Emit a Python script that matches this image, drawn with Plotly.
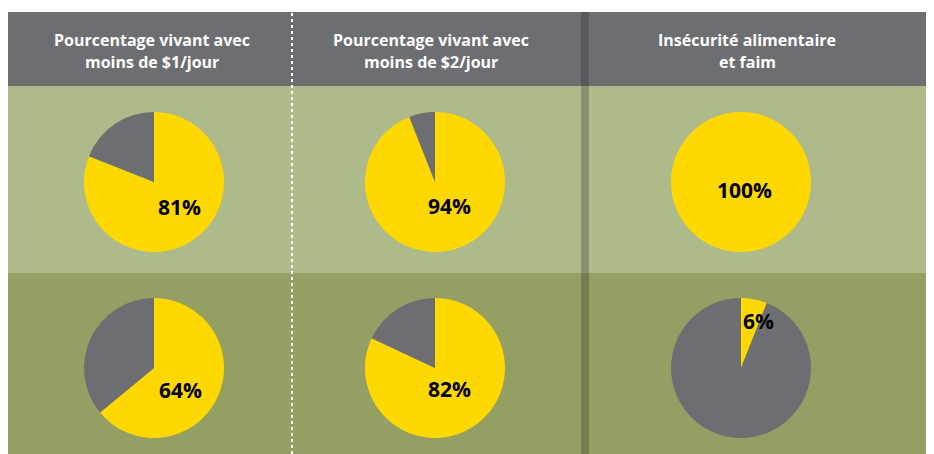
import plotly.graph_objects as go

W, H = 934, 454
OFF = 8  # page body margin in the browser
FW, FH = W - OFF, H - OFF

header_line1 = ["Pourcentage vivant avec", "Pourcentage vivant avec", "Insécurité alimentaire"]
header_line2 = ["moins de $1/jour", "moins de $2/jour", "et faim"]
row1_values = [81, 94, 100]
row2_values = [64, 82, 6]

YELLOW = "#ffd800"
GRAY = "#6d6e71"
HEADER = "#6d6e71"
LIGHT = "#afba8b"
DARK = "#939f63"

# layout geometry (pixels in the page)
col_edges = [7, 292, 585, 934]
pie_cx = [154, 435, 741]
header_cx = [152, 431, 747]
header_ly = [40, 62]
row_cy = [182, 368]
R = 70
top, head_bot, mid = 12, 86, 273
# label offsets from pie centre (style), per row / column
label_dx = [[25, 14, 3], [26, 14, 17]]
label_dy = [[25, 24, 8], [22, 21, -47]]


def px(x):
    return (x - OFF) / FW


def py(y):
    return 1 - (y - OFF) / FH


fig = go.Figure()
annotations = []

for r, vals in enumerate([row1_values, row2_values]):
    for c, v in enumerate(vals):
        cx, cy = pie_cx[c], row_cy[r]
        fig.add_trace(go.Pie(
            values=[v, 100 - v],
            labels=["yes", "no"],
            marker=dict(colors=[YELLOW, GRAY], line=dict(width=0)),
            sort=False,
            direction="clockwise",
            rotation=0,
            textinfo="none",
            hoverinfo="skip",
            showlegend=False,
            domain=dict(x=[px(cx - R), px(cx + R)], y=[py(cy + R), py(cy - R)]),
        ))
        annotations.append(dict(
            text=f"<b>{v}%</b>", x=px(cx + label_dx[r][c]), y=py(cy + label_dy[r][c]),
            xref="paper", yref="paper", showarrow=False, xanchor="center", yanchor="middle",
            font=dict(family="Open Sans", size=21, color="black"),
        ))

shapes = [
    dict(type="rect", xref="paper", yref="paper", x0=max(px(col_edges[0]), 0), x1=1,
         y0=py(head_bot), y1=py(top), fillcolor=HEADER, line_width=0, layer="below"),
    dict(type="rect", xref="paper", yref="paper", x0=max(px(col_edges[0]), 0), x1=1,
         y0=py(mid), y1=py(head_bot), fillcolor=LIGHT, line_width=0, layer="below"),
    dict(type="rect", xref="paper", yref="paper", x0=max(px(col_edges[0]), 0), x1=1,
         y0=0, y1=py(mid), fillcolor=DARK, line_width=0, layer="below"),
    dict(type="line", xref="paper", yref="paper", x0=px(col_edges[1]), x1=px(col_edges[1]),
         y0=0, y1=py(top), line=dict(color="white", width=2, dash="dot"), layer="below"),
    dict(type="rect", xref="paper", yref="paper", x0=px(col_edges[2] - 4), x1=px(col_edges[2] + 4),
         y0=0, y1=py(top), fillcolor="rgba(40,40,40,0.28)", line_width=0, layer="below"),
]

for c in range(3):
    for t, ly in zip([header_line1[c], header_line2[c]], header_ly):
        annotations.append(dict(
            text=f"<b>{t}</b>", x=px(header_cx[c]), y=py(ly),
            xref="paper", yref="paper", showarrow=False, xanchor="center", yanchor="middle",
            font=dict(family="Open Sans", size=16, color="white"), align="center",
        ))

fig.update_layout(
    width=FW, height=FH,
    margin=dict(l=0, r=0, t=0, b=0),
    paper_bgcolor="white",
    plot_bgcolor="white",
    shapes=shapes,
    annotations=annotations,
)

fig.write_html("out.html")
